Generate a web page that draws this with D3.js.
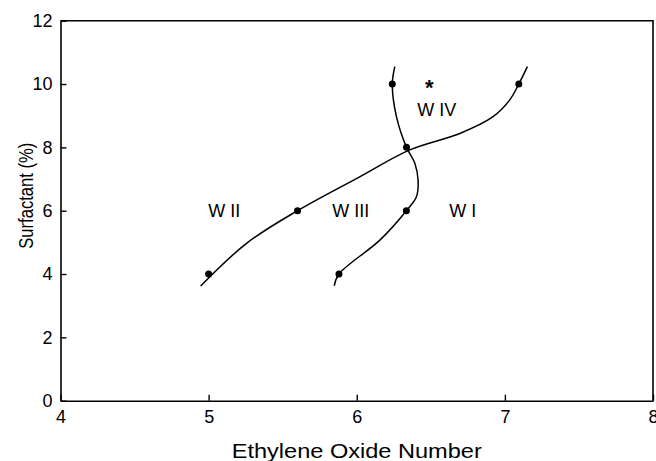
<!DOCTYPE html>
<html>
<head>
<meta charset="utf-8">
<script src="https://cdn.jsdelivr.net/npm/d3@7"></script>
<style>
  body { margin: 0; background: #fff; }
  text { font-family: "Liberation Sans", Arial, sans-serif; fill: #000; }
</style>
</head>
<body>
<div id="phase-chart"></div>
<script>
// measured points
let pointX = [5.0, 5.6, 5.88, 6.335, 6.336, 6.24, 7.094];
let pointY = [4, 6, 4, 6, 8, 10, 10];

// boundary between W II / W III and W IV
let curve1X = [4.946, 5.256, 5.6, 6.02, 6.358, 6.696, 6.92, 7.033, 7.094, 7.152];
let curve1Y = [3.62, 4.97, 6.0, 7.07, 7.92, 8.44, 8.97, 9.5, 10.0, 10.55];

// boundary between W III and W I
let curve2X = [5.848, 5.88, 6.156, 6.335, 6.403, 6.414, 6.392, 6.336, 6.268, 6.24, 6.257];
let curve2Y = [3.63, 4.0, 5.07, 6.0, 6.44, 6.97, 7.5, 8.0, 8.97, 10.0, 10.55];

// region labels
let regionNames = ["W II", "W III", "W I", "W IV"];
let regionX = [5.105, 5.96, 6.715, 6.54];
let regionY = [6, 6, 6, 9.18];

let xTicks = [4, 5, 6, 7, 8];
let yTicks = [0, 2, 4, 6, 8, 10, 12];

class phaseViz {
  constructor(parentElement) {
    this.parentElement = parentElement;
    this.initVis();
  }

  initVis() {
    let vis = this;

    vis.margin = { top: 20.7, right: 3, bottom: 60.3, left: 60.5 };
    vis.width = 656 - vis.margin.left - vis.margin.right;
    vis.height = 461 - vis.margin.top - vis.margin.bottom;

    vis.svg = d3
      .select("#" + vis.parentElement)
      .append("svg")
      .attr("width", 656)
      .attr("height", 461)
      .append("g")
      .attr("transform", "translate(" + vis.margin.left + "," + vis.margin.top + ")");

    vis.x = d3.scaleLinear().domain([4, 8]).range([0, vis.width]);
    vis.y = d3.scaleLinear().domain([0, 12]).range([vis.height, 0]);

    vis.xAxis = d3.axisBottom(vis.x).tickValues(xTicks).tickFormat(d3.format("d"))
      .tickSizeInner(-6).tickSizeOuter(0).tickPadding(10);
    vis.yAxis = d3.axisLeft(vis.y).tickValues(yTicks).tickFormat(d3.format("d"))
      .tickSizeInner(-6).tickSizeOuter(0).tickPadding(8);

    vis.updateVis();
  }

  updateVis() {
    let vis = this;

    // frame
    vis.svg
      .append("path")
      .attr("d", "M0,0H" + vis.width + "V" + vis.height)
      .style("fill", "none")
      .style("stroke", "#000")
      .style("stroke-width", 1.6);

    let gx = vis.svg
      .append("g")
      .attr("class", "axis x-axis")
      .attr("transform", "translate(0," + vis.height + ")")
      .call(vis.xAxis);

    let gy = vis.svg.append("g").attr("class", "axis y-axis").call(vis.yAxis);

    [gx, gy].forEach((g) => {
      g.select(".domain").style("stroke", "#000").style("stroke-width", 1.6);
      g.selectAll(".tick line").style("stroke", "#000").style("stroke-width", 1.4);
      g.selectAll(".tick text").style("font-size", "18px").style("fill", "#000");
    });

    vis.svg
      .append("text")
      .attr("x", vis.width / 2)
      .attr("y", vis.height + 57)
      .attr("text-anchor", "middle")
      .attr("textLength", 250)
      .attr("lengthAdjust", "spacingAndGlyphs")
      .style("font-size", "21px")
      .text("Ethylene Oxide Number");

    vis.svg
      .append("text")
      .attr("transform", "translate(-28," + (vis.height / 2 - 15) + ") rotate(-90)")
      .attr("text-anchor", "middle")
      .attr("textLength", 106)
      .attr("lengthAdjust", "spacingAndGlyphs")
      .style("font-size", "19.5px")
      .text("Surfactant (%)");

    vis.line = d3
      .line()
      .x((d) => vis.x(d[0]))
      .y((d) => vis.y(d[1]))
      .curve(d3.curveCatmullRom.alpha(0.5));

    let c1 = curve1X.map((d, i) => [d, curve1Y[i]]);
    let c2 = curve2X.map((d, i) => [d, curve2Y[i]]);

    [c1, c2].forEach((c) => {
      vis.svg
        .append("path")
        .datum(c)
        .attr("class", "line")
        .attr("d", vis.line)
        .style("fill", "none")
        .style("stroke", "#000")
        .style("stroke-width", "1.5");
    });

    vis.svg
      .selectAll("circle")
      .data(pointX)
      .enter()
      .append("circle")
      .attr("cx", (d) => vis.x(d))
      .attr("cy", (d, i) => vis.y(pointY[i]))
      .attr("r", 3.5)
      .attr("fill", "#000");

    vis.svg
      .selectAll(".region")
      .data(regionNames)
      .enter()
      .append("text")
      .attr("class", "region")
      .attr("x", (d, i) => vis.x(regionX[i]))
      .attr("y", (d, i) => vis.y(regionY[i]))
      .attr("dy", "0.35em")
      .attr("text-anchor", "middle")
      .style("font-size", "18px")
      .text((d) => d);

    vis.svg
      .append("text")
      .attr("x", vis.x(6.49))
      .attr("y", vis.y(9.93))
      .attr("dy", "0.42em")
      .attr("text-anchor", "middle")
      .style("font-size", "22px")
      .style("font-weight", "bold")
      .text("*");
  }
}

new phaseViz("phase-chart");
</script>
</body>
</html>
